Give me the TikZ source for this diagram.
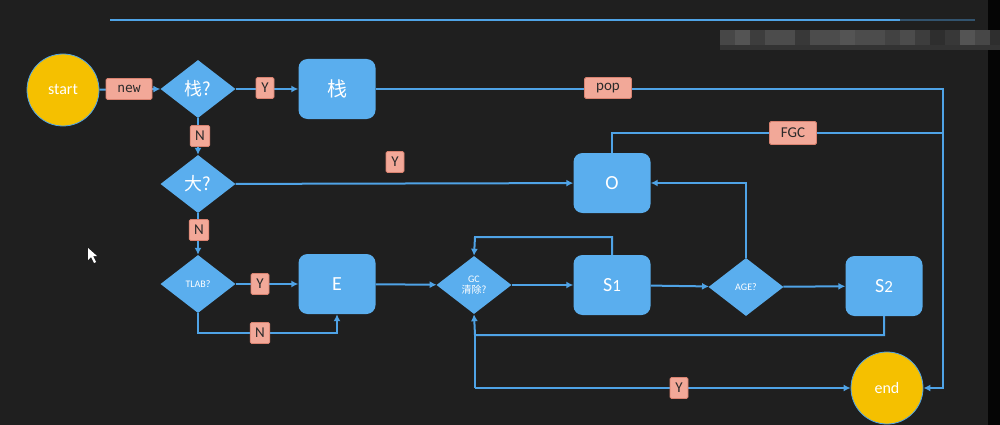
\documentclass[tikz,border=0pt]{standalone}
\usepackage{fontspec}
\setmainfont{Carlito}
\newfontfamily\cjk{Noto Sans CJK SC}
\newfontfamily\monof{DejaVu Sans Mono}
\usetikzlibrary{shapes.geometric,arrows.meta,positioning}
\definecolor{bg}{HTML}{1F1F1F}
\definecolor{bl}{HTML}{5AAEEE}
\definecolor{ln}{HTML}{4FA3E6}
\definecolor{yl}{HTML}{F5C000}
\definecolor{lbf}{HTML}{F2A898}
\definecolor{lbd}{HTML}{D98270}
\definecolor{lbt}{HTML}{2A2A2A}
\tikzset{
  conn/.style={draw=ln, line width=2pt},
  arr/.style={conn, -{Latex[length=7pt,width=7pt]}},
  term/.style={circle, fill=yl, draw=ln, line width=0.8pt, minimum size=72pt, inner sep=0pt, text=white, font=\fontsize{16}{16}\selectfont},
  boxn/.style={rectangle, rounded corners=9pt, fill=bl, minimum width=77pt, minimum height=60pt, inner sep=0pt, text=white, font=\fontsize{20}{20}\selectfont},
  dia/.style={diamond, fill=bl, minimum width=75pt, minimum height=58pt, inner sep=0pt, aspect=1.3, text=white},
  lab/.style={rectangle, rounded corners=1.5pt, fill=lbf, draw=lbd, line width=0.8pt, minimum height=21pt, minimum width=18pt, inner xsep=5pt, inner ysep=0pt, text=lbt, font=\fontsize{15}{15}\selectfont}
}
\begin{document}
\begin{tikzpicture}[x=1pt,y=-1pt]
\fill[bg] (0,0) rectangle (1000,425);
\useasboundingbox (0,0) rectangle (1000,425);
\fill[black!85!bg] (988,0) rectangle (1000,425);
% pixelated watermark
\foreach \g [count=\i from 0] in {28,33,24,30,30,22,30,30,33,30,30,26,30,24,18,22,33,28,18} {
  \fill[black!\the\numexpr100-\g\relax] (720+\i*15,30) rectangle (735+\i*15,45);
}
\fill[black!80] (720,45) rectangle (1000,50);
\draw[conn] (110,20) -- (900,20);
\draw[conn, draw opacity=0.4] (900,20) -- (975,20);
% cursor
\fill[white] (88,248) -- (88,260) -- (91,257) -- (94,263) -- (96,262) -- (93,256) -- (97,256) -- cycle;

% nodes
\node[term] (start) at (63,90) {start};
\node[term] (end) at (887,388) {end};
\node[dia, font=\cjk\fontsize{18}{18}\selectfont] (q1) at (198,89) {栈?};
\node[dia, font=\cjk\fontsize{18}{18}\selectfont] (q2) at (198,184) {大?};
\node[dia, font=\fontsize{10}{10}\selectfont] (q3) at (198,284) {TLAB?};
\node[dia, font=\fontsize{10}{11}\selectfont, align=center] (gc) at (474,285) {GC\\{\cjk 清除?}};
\node[dia, font=\fontsize{10}{10}\selectfont] (age) at (746,287) {AGE?};
\node[boxn, font=\cjk\fontsize{20}{20}\selectfont] (stk) at (337,89) {栈};
\node[boxn] (E) at (337,284) {E};
\node[boxn] (O) at (612,183) {O};
\node[boxn] (S1) at (612,285) {S{\fontsize{17}{17}\selectfont 1}};
\node[boxn] (S2) at (884,286) {S{\fontsize{17}{17}\selectfont 2}};

\coordinate (rt) at (943,89);
\coordinate (fg) at (943,133);
\coordinate (ot) at (612,133);
\coordinate (gcl) at (475,237);
\coordinate (s2b) at (475,335);
\coordinate (gce) at (475,388);
\coordinate (tn) at (198,333);

% connectors
\draw[arr] (start) -- (q1.west);
\draw[arr] (q1) -- (stk);
\draw[arr] (stk.east) -- (rt) |- (end.east);
\draw[arr] (q1) -- (q2);
\draw[arr] (q2) -- (O);
\draw[arr] (q2) -- (q3);
\draw[arr] (q3) -- (E);
\draw[arr] (q3.south) -- (tn) -| (E.south);
\draw[arr] (E) -- (gc);
\draw[arr] (gc) -- (S1);
\draw[arr] (S1.north) |- (gcl) -- (gc.north);
\draw[arr] (S1) -- (age);
\draw[arr] (age.north) |- (O.east);
\draw[arr] (age) -- (S2);
\draw[arr] (S2.south) |- (s2b) -- (gc.south);
\draw[conn] (gce) -- (s2b);
\draw[arr] (gce) -- (end.west);
\draw[conn] (O.north) -- (ot) -- (fg);

% labels
\node[lab, font=\monof\fontsize{13}{13}\selectfont, minimum width=46pt, inner xsep=2pt] (lnew) at (129,89) {new};
\node[lab] (ly1) at (265,88) {Y};
\node[lab, minimum width=47pt] (lpop) at (608,88) {pop};
\node[lab] (ln1) at (200,136) {N};
\node[lab] (ly2) at (395,162) {Y};
\node[lab] (ln2) at (199,230) {N};
\node[lab] (ly3) at (260,284) {Y};
\node[lab] (ln3) at (260,333) {N};
\node[lab, minimum width=47pt, minimum height=23pt] (lfgc) at (793,133) {FGC};
\node[lab] (ly4) at (679,388) {Y};
\end{tikzpicture}
\end{document}
